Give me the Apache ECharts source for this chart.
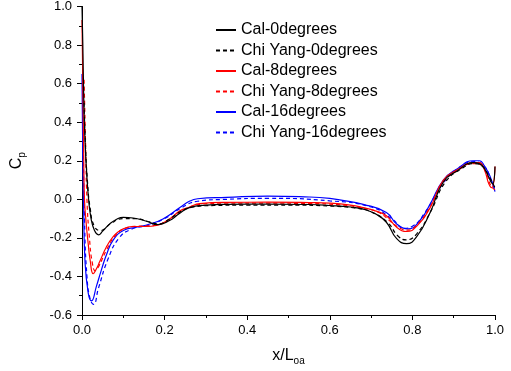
<!DOCTYPE html>
<html>
<head>
<meta charset="utf-8">
<script src="https://cdn.jsdelivr.net/npm/echarts@6/dist/echarts.min.js"></script>
<style>html,body{margin:0;padding:0;background:#fff}#c{width:511px;height:371px}</style>
</head>
<body>
<div id="c"></div>
<script>
// Data
var seriesNames = ['Cal-0degrees','Chi Yang-0degrees','Cal-8degrees','Chi Yang-8degrees','Cal-16degrees','Chi Yang-16degrees'];
var xTicks = [0.0, 0.2, 0.4, 0.6, 0.8, 1.0];
var yTicks = [-0.6, -0.4, -0.2, 0.0, 0.2, 0.4, 0.6, 0.8, 1.0];

var cal0X = [0, 0.002, 0.004, 0.007, 0.011, 0.016, 0.022, 0.03, 0.04, 0.05, 0.067, 0.085, 0.1, 0.124, 0.156, 0.184, 0.212, 0.235, 0.26, 0.3, 0.35, 0.45, 0.55, 0.6, 0.65, 0.681, 0.71, 0.737, 0.762, 0.786, 0.81, 0.843, 0.875, 0.91, 0.947, 0.962, 0.977, 0.988, 0.994, 1.0];
var cal0Y = [1.0, 0.8, 0.55, 0.32, 0.15, 0.0, -0.1, -0.16, -0.184, -0.165, -0.128, -0.102, -0.094, -0.097, -0.114, -0.131, -0.11, -0.075, -0.043, -0.03, -0.026, -0.025, -0.027, -0.032, -0.04, -0.051, -0.075, -0.119, -0.204, -0.23, -0.195, -0.068, 0.09, 0.15, 0.19, 0.185, 0.15, 0.1, 0.08, 0.17];

var chi0X = [0.005, 0.008, 0.013, 0.02, 0.03, 0.045, 0.055, 0.07, 0.1, 0.13, 0.16, 0.185, 0.21, 0.24, 0.27, 0.32, 0.4, 0.5, 0.6, 0.66, 0.7, 0.74, 0.765, 0.785, 0.81, 0.845, 0.88, 0.92, 0.95, 0.97, 0.985, 1.0];
var chi0Y = [0.5, 0.3, 0.1, -0.05, -0.14, -0.162, -0.153, -0.125, -0.1, -0.1, -0.115, -0.128, -0.105, -0.062, -0.04, -0.032, -0.03, -0.03, -0.035, -0.045, -0.065, -0.12, -0.19, -0.21, -0.18, -0.06, 0.09, 0.16, 0.185, 0.17, 0.12, 0.06];

var cal8X = [0, 0.002, 0.004, 0.006, 0.01, 0.015, 0.02, 0.027, 0.035, 0.043, 0.059, 0.075, 0.09, 0.1, 0.124, 0.156, 0.18, 0.212, 0.237, 0.261, 0.285, 0.35, 0.45, 0.55, 0.6, 0.65, 0.681, 0.71, 0.737, 0.762, 0.787, 0.81, 0.843, 0.875, 0.91, 0.947, 0.962, 0.975, 0.985, 0.992, 1.0];
var cal8Y = [0.93, 0.6, 0.25, 0.0, -0.12, -0.23, -0.32, -0.386, -0.36, -0.323, -0.247, -0.195, -0.165, -0.153, -0.141, -0.141, -0.136, -0.102, -0.06, -0.04, -0.022, -0.016, -0.015, -0.017, -0.02, -0.03, -0.043, -0.06, -0.085, -0.145, -0.167, -0.14, -0.043, 0.1, 0.155, 0.19, 0.19, 0.15, 0.08, 0.06, 0.17];

var chi8X = [0.005, 0.008, 0.012, 0.018, 0.025, 0.032, 0.04, 0.06, 0.08, 0.1, 0.13, 0.16, 0.19, 0.22, 0.25, 0.29, 0.35, 0.45, 0.55, 0.62, 0.68, 0.72, 0.75, 0.77, 0.788, 0.81, 0.84, 0.875, 0.91, 0.945, 0.965, 0.98, 0.99, 1.0];
var chi8Y = [0.62, 0.35, 0.0, -0.2, -0.33, -0.37, -0.35, -0.26, -0.19, -0.155, -0.14, -0.138, -0.128, -0.09, -0.05, -0.025, -0.02, -0.02, -0.022, -0.028, -0.045, -0.07, -0.12, -0.15, -0.16, -0.135, -0.05, 0.09, 0.15, 0.185, 0.18, 0.13, 0.07, 0.05];

var cal16X = [0, 0.002, 0.004, 0.007, 0.015, 0.023, 0.035, 0.047, 0.059, 0.075, 0.1, 0.132, 0.164, 0.196, 0.237, 0.261, 0.28, 0.35, 0.45, 0.55, 0.6, 0.624, 0.681, 0.737, 0.762, 0.79, 0.818, 0.843, 0.875, 0.91, 0.947, 0.962, 0.975, 0.988, 1.0];
var cal16Y = [0.65, 0.2, -0.05, -0.31, -0.485, -0.527, -0.45, -0.366, -0.289, -0.213, -0.162, -0.145, -0.128, -0.102, -0.043, -0.009, 0.003, 0.01, 0.017, 0.012, 0.005, -0.003, -0.026, -0.068, -0.128, -0.153, -0.11, -0.025, 0.1, 0.16, 0.2, 0.2, 0.17, 0.12, 0.04];

var chi16X = [0.003, 0.006, 0.012, 0.02, 0.028, 0.04, 0.063, 0.09, 0.12, 0.16, 0.2, 0.24, 0.28, 0.35, 0.45, 0.6, 0.7, 0.75, 0.78, 0.8, 0.83, 0.87, 0.91, 0.95, 0.975, 0.99, 1.0];
var chi16Y = [0.3, -0.1, -0.4, -0.52, -0.545, -0.46, -0.31, -0.2, -0.155, -0.135, -0.1, -0.045, -0.01, 0.0, 0.005, -0.008, -0.04, -0.1, -0.15, -0.14, -0.07, 0.07, 0.16, 0.195, 0.17, 0.1, 0.05];

function pairs(xs, ys) { return xs.map(function (x, i) { return [x, ys[i]]; }); }

var colors = ['#000000', '#000000', '#ff0000', '#ff0000', '#0000ff', '#0000ff'];
var dashes = ['solid', [4, 3], 'solid', [4, 3], 'solid', [4, 3]];
var dataSets = [pairs(cal0X, cal0Y), pairs(chi0X, chi0Y), pairs(cal8X, cal8Y), pairs(chi8X, chi8Y), pairs(cal16X, cal16Y), pairs(chi16X, chi16Y)];

var FONT = '"Liberation Sans", Arial, sans-serif';
var chart = echarts.init(document.getElementById('c'), null, { renderer: 'canvas' });

var series = seriesNames.map(function (n, i) {
  return {
    name: n, type: 'line', data: dataSets[i], showSymbol: false, symbol: 'none',
    smooth: 0.5,
    lineStyle: { color: colors[i], width: 1.2, type: dashes[i] },
    itemStyle: { color: colors[i] },
    z: 10 - i
  };
});

var axisCommon = {
  axisLine: { show: true, onZero: false, lineStyle: { color: '#000', width: 1 } },
  axisTick: { show: true, inside: false, length: 5, lineStyle: { color: '#000' } },
  minorTick: { show: true, splitNumber: 2, length: 3, lineStyle: { color: '#000' } },
  splitLine: { show: false },
  axisLabel: { color: '#000', fontSize: 13, fontFamily: FONT, formatter: function (v) { return v.toFixed(1); } }
};

chart.setOption({
  animation: false,
  backgroundColor: '#fff',
  grid: { left: 82, right: 16, top: 4, bottom: 53, containLabel: false },
  legend: {
    show: true,
    orient: 'vertical', left: 210, top: 17,
    itemWidth: 20, itemHeight: 14, itemGap: 4.5,
    itemStyle: { opacity: 0, borderWidth: 0 },
    textStyle: { fontSize: 16, fontFamily: FONT, color: '#000' },
    data: seriesNames
  },
  xAxis: Object.assign({}, axisCommon, {
    type: 'value', min: xTicks[0], max: xTicks[xTicks.length - 1], interval: 0.2,
    name: '{a|x/L}{b|oa}', nameLocation: 'middle', nameGap: 31,
    nameTextStyle: { rich: { a: { fontSize: 16, fontFamily: FONT, color: '#000' }, b: { fontSize: 10, fontFamily: FONT, color: '#000', padding: [10, 0, 0, 0] } } },
    axisLabel: Object.assign({}, axisCommon.axisLabel, { margin: 9 })
  }),
  yAxis: Object.assign({}, axisCommon, {
    type: 'value', min: yTicks[0], max: yTicks[yTicks.length - 1], interval: 0.2,
    name: '{a|C}{b|p}', nameLocation: 'middle', nameGap: 55, nameRotate: 90,
    nameTextStyle: { rich: { a: { fontSize: 16, fontFamily: FONT, color: '#000' }, b: { fontSize: 10, fontFamily: FONT, color: '#000', padding: [10, 0, 0, 0] } } },
    axisLabel: Object.assign({}, axisCommon.axisLabel, { margin: 10 })
  }),
  series: series
});
</script>
</body>
</html>
